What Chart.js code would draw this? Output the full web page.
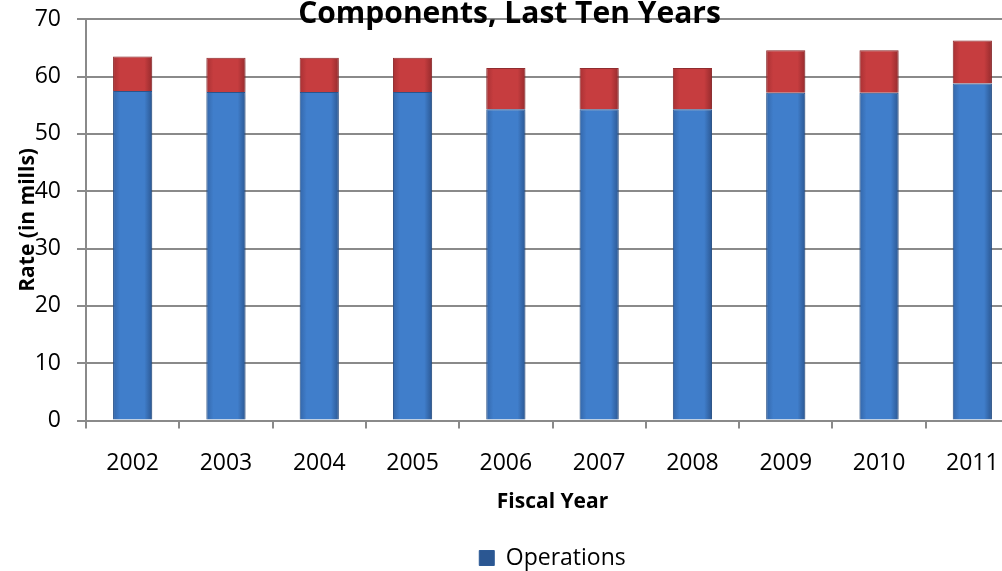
<!DOCTYPE html>
<html>
<head>
<meta charset="utf-8">
<script src="https://cdn.jsdelivr.net/npm/chart.js@4"></script>
<style>
  html, body { margin: 0; padding: 0; background: #fff; }
  .frame { position: relative; width: 1002px; height: 571px; overflow: hidden; }
  #rates { position: absolute; left: 0; top: -12px; }
</style>
</head>
<body>
<div class="frame">
  <canvas id="rates" width="1100" height="600"></canvas>
</div>
<script>
// tax rate components, in mills
const years = ["2002", "2003", "2004", "2005", "2006", "2007", "2008", "2009", "2010", "2011"];
const operations = [57.5, 57.3, 57.3, 57.3, 54.3, 54.3, 54.3, 57.2, 57.2, 58.8];
const debtService = [6.0, 6.0, 6.0, 6.0, 7.2, 7.2, 7.2, 7.4, 7.4, 7.5];
const rateTicks = [0, 10, 20, 30, 40, 50, 60, 70];

const barPct = 0.42;
const gray = "#8a8a8a";
const font = "'Open Sans', sans-serif";

// shaded fill across each bar, darker at the sides
function barFill(stops) {
  return (c) => {
    const xs = c.chart.scales.x;
    if (c.type !== "data" || !xs || !xs.width) return stops[1];
    const cx = xs.getPixelForValue(c.dataIndex);
    const w = (xs.width / years.length) * barPct;
    const g = c.chart.ctx.createLinearGradient(cx - w / 2, 0, cx + w / 2, 0);
    g.addColorStop(0, stops[0]);
    g.addColorStop(0.18, stops[1]);
    g.addColorStop(0.8, stops[1]);
    g.addColorStop(1, stops[2]);
    return g;
  };
}

// soft grey halo behind the bars
const barShadow = {
  id: "barShadow",
  beforeDatasetsDraw(chart) {
    const ctx = chart.ctx;
    ctx.save();
    ctx.shadowColor = "rgba(0, 0, 0, 0.22)";
    ctx.shadowBlur = 6;
    ctx.shadowOffsetX = 1;
    ctx.shadowOffsetY = 1;
  },
  afterDatasetsDraw(chart) {
    chart.ctx.restore();
  },
};

const data = {
  labels: years,
  datasets: [
    {
      label: "Operations",
      data: operations,
      backgroundColor: barFill(["#3467aa", "#407ecb", "#2b5792"]),
      borderColor: "#2d5a96",
      borderWidth: 1,
    },
    {
      label: "Debt Service",
      data: debtService,
      backgroundColor: barFill(["#a83134", "#c63d3f", "#962b2d"]),
      borderColor: "#9a2f31",
      borderWidth: 1,
    },
  ],
};

const config = {
  type: "bar",
  data,
  plugins: [barShadow],
  options: {
    responsive: false,
    animation: false,
    layout: { padding: { left: 0, right: 81, top: 0, bottom: 8.5 } },
    datasets: { bar: { categoryPercentage: 1, barPercentage: barPct } },
    scales: {
      x: {
        stacked: true,
        afterFit: (s) => { s.height = 116; },
        grid: { drawOnChartArea: false, drawTicks: true, tickLength: 8, color: gray, lineWidth: 2 },
        border: { color: gray, width: 2 },
        ticks: { color: "#000", font: { family: font, size: 23 }, padding: 21 },
        title: {
          display: true,
          text: "Fiscal Year",
          color: "#000",
          font: { family: font, size: 21, weight: "bold" },
          padding: { top: 0, bottom: 22 },
        },
      },
      y: {
        stacked: true,
        min: 0,
        max: 70,
        afterBuildTicks: (s) => { s.ticks = rateTicks.map((v) => ({ value: v })); },
        afterFit: (s) => { s.width = 86; },
        grid: { color: gray, lineWidth: 2, tickLength: 9 },
        border: { color: gray, width: 2 },
        ticks: { color: "#000", font: { family: font, size: 23 }, padding: 16 },
        title: {
          display: true,
          text: "Rate (in mills)",
          color: "#000",
          font: { family: font, size: 21, weight: "bold" },
          padding: { top: 15, bottom: 0 },
        },
      },
    },
    plugins: {
      title: {
        display: true,
        text: "Components, Last Ten Years",
        color: "#000",
        font: { family: font, size: 30, weight: "bold" },
        padding: { top: 8.5, bottom: -13.2 },
      },
      legend: {
        position: "bottom",
        fullSize: false,
        labels: {
          color: "#000",
          font: { family: font, size: 23 },
          boxWidth: 15,
          boxHeight: 15,
          padding: 10,
          filter: (item) => item.text === "Operations",
        },
      },
      tooltip: { enabled: false },
    },
  },
};

const ratesChart = new Chart(document.getElementById("rates"), config);
</script>
</body>
</html>
